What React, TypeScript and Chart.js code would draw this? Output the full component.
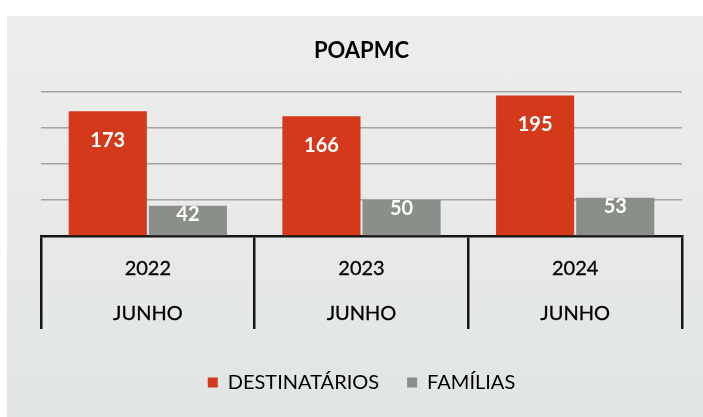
import React, { useEffect, useRef } from 'react';
import { Chart, registerables } from 'chart.js';

Chart.register(...registerables);

const TITLE = 'POAPMC';
const YEARS = ['2022', '2023', '2024'];
const MONTH = 'JUNHO';
const SERIES_NAMES = ['DESTINATÁRIOS', 'FAMÍLIAS'];
const DESTINATARIOS = [173, 166, 195];
const FAMILIAS = [42, 50, 53];
const Y_TICKS = [0, 50, 100, 150, 200];

const RED = '#d5391b';
const GRAY = '#8b8f89';
const FONT = 'Lato, "Liberation Sans", sans-serif';

const valueLabels = {
  id: 'valueLabels',
  afterDatasetsDraw(chart: any) {
    const ctx = chart.ctx;
    const bottom = chart.chartArea.bottom;
    chart.data.datasets.forEach((ds: any, di: number) => {
      const meta = chart.getDatasetMeta(di);
      const off = di === 0 ? 29 : 9;
      meta.data.forEach((el: any, i: number) => {
        const { x, y, width } = el.getProps(['x', 'y', 'width'], true);
        ctx.save();
        ctx.beginPath();
        ctx.rect(x - width / 2, y, width, bottom - y);
        ctx.clip();
        ctx.fillStyle = '#ffffff';
        ctx.font = `bold 20px ${FONT}`;
        ctx.textAlign = 'center';
        ctx.textBaseline = 'middle';
        ctx.fillText(String(ds.data[i]), x, y + off);
        ctx.restore();
      });
    });
  },
};

export default function App() {
  const ref = useRef<HTMLCanvasElement>(null);
  useEffect(() => {
    const chart = new Chart(ref.current as HTMLCanvasElement, {
      type: 'bar',
      data: {
        labels: YEARS.map((y) => [y, MONTH]),
        datasets: [
          {
            label: SERIES_NAMES[0],
            data: DESTINATARIOS,
            backgroundColor: RED,
            categoryPercentage: 0.75,
            barPercentage: 0.975,
          },
          {
            label: SERIES_NAMES[1],
            data: FAMILIAS,
            backgroundColor: GRAY,
            categoryPercentage: 0.75,
            barPercentage: 0.975,
          },
        ],
      },
      options: {
        animation: false,
        responsive: false,
        layout: { padding: { left: 34, right: 21, top: 0, bottom: 14.5 } },
        plugins: {
          title: {
            display: true,
            text: TITLE,
            color: '#000',
            font: { family: FONT, size: 22, weight: 'bold', lineHeight: 1.2 },
            padding: { top: 21.8, bottom: 27.6 },
          },
          legend: {
            position: 'bottom',
            labels: {
              boxWidth: 10,
              boxHeight: 10,
              padding: 28,
              color: '#000',
              font: { family: FONT, size: 20 },
            },
          },
          tooltip: { enabled: false },
        },
        scales: {
          x: {
            grid: {
              offset: true,
              drawOnChartArea: false,
              drawTicks: true,
              tickLength: 93,
              color: '#151515',
              lineWidth: 2.5,
            },
            border: { display: true, color: '#151515', width: 2.5 },
            ticks: {
              color: '#000',
              textStrokeColor: '#000',
              textStrokeWidth: 0.3,
              font: { family: FONT, size: 20, lineHeight: 2.25 },
              padding: -82.5,
              maxRotation: 0,
              autoSkip: false,
            },
            afterFit: (s: any) => {
              s.height = 108.5;
            },
          },
          y: {
            min: 0,
            max: 200,
            ticks: { display: false },
            grid: { color: '#a3a3a3', lineWidth: 1.5, drawTicks: false },
            border: { display: false },
            afterBuildTicks: (s: any) => {
              s.ticks = Y_TICKS.map((v) => ({ value: v }));
            },
          },
        },
      } as any,
      plugins: [valueLabels],
    });
    return () => chart.destroy();
  }, []);
  return (
    <div style={{ position: 'fixed', left: 0, top: 0, width: 703, height: 417, background: '#ffffff' }}>
      <div
        style={{
          position: 'absolute',
          left: 7,
          top: 16,
          width: 696,
          height: 401,
          background: 'linear-gradient(180deg, #ededed 0%, #e8e9e9 50%, #e1e5e6 100%)',
        }}
      >
        <canvas ref={ref} width={696} height={401} style={{ display: 'block' }} />
      </div>
    </div>
  );
}
